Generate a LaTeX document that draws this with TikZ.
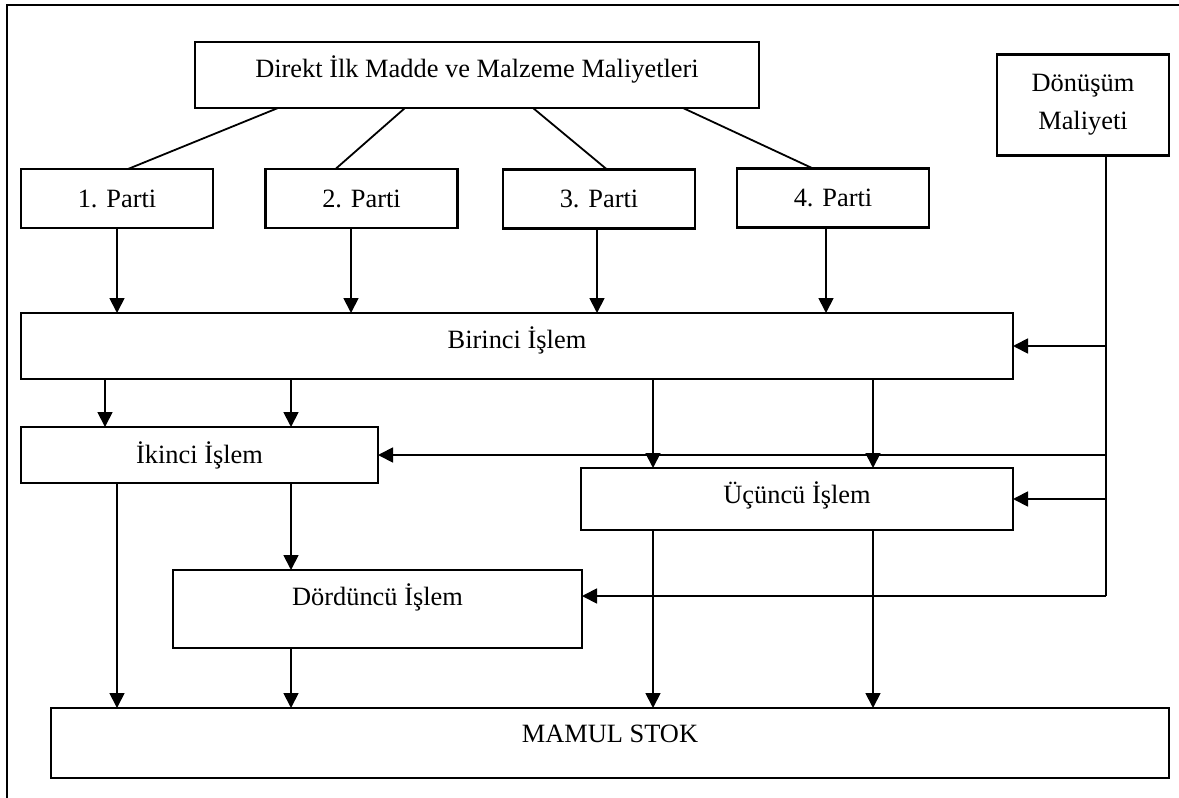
\documentclass[tikz,border=0pt]{standalone}
\usepackage{fontspec}
\setmainfont{Liberation Serif}
\usetikzlibrary{arrows.meta}
\begin{document}
\begin{tikzpicture}[x=0.5pt,y=-0.5pt,
  every node/.style={font=\fontsize{13.2pt}{19pt}\selectfont},
  boxbase/.style={draw, line width=1.1pt, rectangle, inner sep=0pt, outer sep=0pt},
  box/.style={boxbase, text height=9pt, text depth=0.5pt},
  lift/.style={text depth=#1},
  parti/.style={box, minimum width=96pt, minimum height=29.5pt},
  link/.style={line width=0.9pt},
  arr/.style={link, -{Triangle[length=7.5pt,width=7.5pt]}}
]
\useasboundingbox (0,0) rectangle (1179,798);
\clip (0,0) rectangle (1179,798);

% frame running off the page at the right and bottom
\draw[line width=1pt] (6.5,830) -- (6.5,4.5) -- (1200,4.5);

% boxes
\node[box, minimum width=282pt, minimum height=33pt, lift=7pt] (top) at (477,75)
  {Direkt İlk Madde ve Malzeme Maliyetleri};
\node[boxbase, align=center, minimum width=86pt, minimum height=50.5pt] (don) at (1083,105)
  {Dönüşüm\\Maliyeti};

\node[parti] (p1) at (117,198.5) {1. Parti};
\node[parti] (p2) at (361.5,198.5) {2. Parti};
\node[parti] (p3) at (599,199) {3. Parti};
\node[parti] (p4) at (833,198) {4. Parti};

\node[box, minimum width=496pt, minimum height=33pt, lift=6.5pt] (b1) at (517,346) {Birinci İşlem};
\node[box, minimum width=178.5pt, minimum height=28pt] (b2) at (199.5,455) {İkinci İşlem};
\node[box, minimum width=216pt, minimum height=31pt, lift=4.5pt] (b3) at (797,499) {Üçüncü İşlem};
\node[box, minimum width=204.5pt, minimum height=39pt, lift=13pt] (b4) at (377.5,609) {Dördüncü İşlem};
\node[box, minimum width=559pt, minimum height=35pt, lift=9.5pt] (ms) at (610,743) {MAMUL STOK};

% columns used by the vertical connectors
\coordinate (x2) at (351,0);
\coordinate (x3) at (597,0);
\coordinate (x4) at (826,0);
\coordinate (xa) at (105,0);
\coordinate (xb) at (291,0);
\coordinate (xc) at (653,0);
\coordinate (xd) at (873,0);
\coordinate (tb) at (1106,596);

% material split into the lots
\draw[link] ([xshift=41.5pt]top.south west) -- ([xshift=53.5pt]p1.north west);
\draw[link] ([xshift=105pt]top.south west) -- ([xshift=35pt]p2.north west);
\draw[link] ([xshift=169pt]top.south west) -- ([xshift=52pt]p3.north west);
\draw[link] ([xshift=244pt]top.south west) -- ([xshift=38pt]p4.north west);

% lots into the first operation
\draw[arr] (p1.south) -- (p1.south |- b1.north);
\draw[arr] (p2.south -| x2) -- (b1.north -| x2);
\draw[arr] (p3.south -| x3) -- (b1.north -| x3);
\draw[arr] (p4.south -| x4) -- (b1.north -| x4);

% first operation onward
\draw[arr] (b1.south -| xa) -- (b2.north -| xa);
\draw[arr] (b1.south -| xb) -- (b2.north -| xb);
\draw[arr] (b1.south -| xc) -- (b3.north -| xc);
\draw[arr] (b1.south -| xd) -- (b3.north -| xd);

% second operation onward
\draw[arr] (b2.south -| p1.south) -- (ms.north -| p1.south);
\draw[arr] (b2.south -| xb) -- (b4.north -| xb);

% into the finished stock
\draw[arr] (b4.south -| xb) -- (ms.north -| xb);
\draw[arr] (b3.south -| xc) -- (ms.north -| xc);
\draw[arr] (b3.south -| xd) -- (ms.north -| xd);

% conversion cost feed
\draw[link] (don.south -| tb) -- (tb);
\draw[arr] (tb) -- (tb -| b4.east);
\draw[arr] (b1.east -| tb) -- (b1.east);
\draw[arr] (b2.east -| tb) -- (b2.east);
\draw[arr] (b3.east -| tb) -- (b3.east);
\end{tikzpicture}
\end{document}
